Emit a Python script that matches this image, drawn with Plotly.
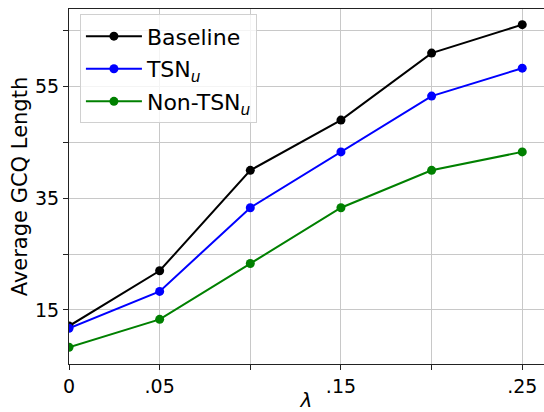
import plotly.graph_objects as go

lam = [0, 0.05, 0.10, 0.15, 0.20, 0.25]
baseline = [12.1, 22.0, 40.0, 49.0, 61.0, 66.1]
tsn_u = [11.7, 18.3, 33.3, 43.3, 53.3, 58.3]
non_tsn_u = [8.3, 13.3, 23.3, 33.3, 40.0, 43.3]

series_names = ["Baseline", "TSN<sub><i>u</i></sub>", "Non-TSN<sub><i>u</i></sub>"]
series_vals = [baseline, tsn_u, non_tsn_u]
series_colors = ["#000000", "#0000ff", "#008000"]

x_tickvals = [0, 0.05, 0.15, 0.25]
x_ticktext = ["0", ".05", ".15", ".25"]
x_minorvals = [0.10, 0.20]
y_tickvals = [15, 35, 55]
y_ticktext = ["15", "35", "55"]
y_minorvals = [25, 45, 65]

FONT = "DejaVu Sans"

fig = go.Figure()
for i, (name, vals, col) in enumerate(zip(series_names, series_vals, series_colors)):
    fig.add_trace(go.Scatter(
        x=lam, y=vals, name=name, mode="lines+markers",
        line=dict(color=col, width=2),
        marker=dict(color=col, size=9),
        legendgroup=f"g{i}",
    ))

def axis_common(minorvals):
    return dict(
        showline=True, linecolor="#222222", linewidth=1.2, mirror=True,
        showgrid=True, gridcolor="#c8c8c8", gridwidth=1.2,
        ticks="outside", ticklen=5, tickwidth=1.2, tickcolor="#222222",
        tickfont=dict(family=FONT, size=19, color="#000000"),
        zeroline=False,
        minor=dict(tickvals=minorvals, ticks="outside", ticklen=5, tickwidth=1.2,
                   tickcolor="#222222", showgrid=True, gridcolor="#c8c8c8", gridwidth=1.2),
    )

fig.update_layout(
    width=544, height=412,
    margin=dict(l=69, r=0, t=9, b=48),
    paper_bgcolor="white", plot_bgcolor="white",
    font=dict(family=FONT, color="#000000"),
    xaxis=dict(
        range=[0, 0.262], tickvals=x_tickvals, ticktext=x_ticktext,
        title=dict(text="<i>λ</i>", font=dict(family=FONT, size=20), standoff=0),
        **axis_common(x_minorvals),
    ),
    yaxis=dict(
        range=[5.3, 68.9], tickvals=y_tickvals, ticktext=y_ticktext,
        title=dict(text="Average GCQ Length", font=dict(family=FONT, size=21), standoff=1),
        **axis_common(y_minorvals),
    ),
    legend=dict(
        x=0.023, y=0.985, xanchor="left", yanchor="top",
        bgcolor="rgba(255,255,255,0.8)", bordercolor="#d0d0d0", borderwidth=1,
        font=dict(family=FONT, size=22, color="#000000"),
        tracegroupgap=1, itemwidth=56,
    ),
    showlegend=True,
)

fig.write_html("out.html")
